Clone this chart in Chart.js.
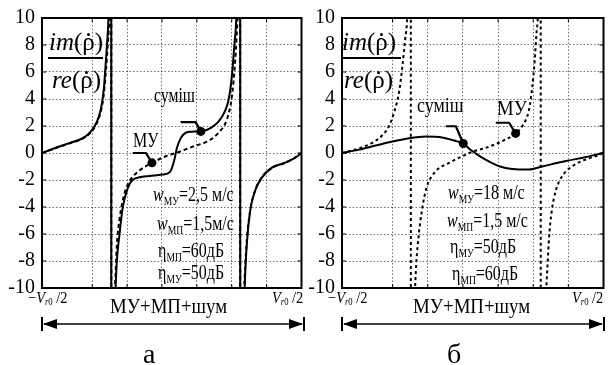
<!DOCTYPE html>
<html>
<head>
<meta charset="utf-8">
<script src="https://cdn.jsdelivr.net/npm/chart.js@4.4.1/dist/chart.umd.min.js"></script>
<style>
  body { margin: 0; background: #fff; }
  #page { position: relative; width: 614px; height: 365px; overflow: hidden; background: #fff;
          font-family: "Liberation Serif", "Times New Roman", serif; color: #000; }
  #page canvas { position: absolute; top: 0; }
  .t { position: absolute; white-space: nowrap; line-height: 1; transform-origin: 0 0; }
  .t sub { font-size: 0.6em; vertical-align: baseline; position: relative; top: 0.3em; }
  .rho { position: relative; display: inline-block; }
  .rho .dot { position: absolute; left: 0.2em; top: 0.14em; width: 3px; height: 3px;
              border-radius: 50%; background: #000; }
  .bar { position: absolute; height: 1.5px; background: #000; }
  svg { position: absolute; left: 0; top: 0; }
</style>
</head>
<body>
<div id="page">
  <canvas id="chartA" width="306" height="300" style="left:0"></canvas>
  <canvas id="chartB" width="308" height="300" style="left:300px"></canvas>
  <svg id="arrows" width="614" height="365"></svg>
</div>
<script>
// x runs in grid cells: -0.44 is the left edge (−Vr0/2), 7 is the right edge (Vr0/2)
var X_MIN = -0.44;
var X_MAX = 7;
var Y_MIN = -10;
var Y_MAX = 10;
var Y_STEP = 2;

// panel а : w_МУ = 2,5 м/с  (±40 marks the jumps at the asymptotes)
var mixAX = [-0.44, 0.08, 0.36, 0.65, 0.88, 1.07, 1.19, 1.28, 1.34, 1.38, 1.42, 1.46, 1.50, 1.546,
  1.548, 1.60, 1.669, 1.712, 1.783, 1.877, 2.019, 2.152, 2.351, 2.635, 3.004, 3.232, 3.346, 3.431,
  3.537, 3.679, 3.858, 4.114, 4.427, 4.711, 4.91, 5.004, 5.081, 5.129, 5.166, 5.242,
  5.244, 5.30, 5.37, 5.43, 5.527, 5.67, 5.857, 6.142, 6.523, 6.807, 7.0];
var mixAY = [0, 0.5, 0.75, 1.0, 1.37, 2.0, 2.7, 3.7, 4.95, 6.4, 7.9, 9.6, 14, 40,
  -40, -16, -10, -7.8, -6.0, -4.0, -2.6, -2.0, -1.8, -1.7, -1.6, -1.4, -0.6, 0.4,
  1.1, 1.5, 1.58, 1.6, 1.9, 2.65, 3.96, 5.7, 8.2, 9.9, 14, 40,
  -40, -16, -10, -6.8, -4.3, -2.8, -1.84, -1.1, -0.73, -0.36, 0];
var muAX = [-0.44, 0.08, 0.36, 0.65, 0.88, 1.08, 1.20, 1.29, 1.35, 1.40, 1.44, 1.48, 1.51, 1.546,
  1.548, 1.60, 1.66, 1.706, 1.783, 1.925, 2.067, 2.351, 2.72, 3.11, 3.4, 3.911, 4.337, 4.621,
  4.862, 5.004, 5.101, 5.166, 5.209, 5.242,
  5.244, 5.30, 5.36, 5.42, 5.52, 5.66, 5.85, 6.14, 6.52, 6.80, 7.0];
var muAY = [0, 0.48, 0.72, 0.98, 1.33, 1.95, 2.65, 3.6, 4.8, 6.3, 7.8, 9.5, 13, 40,
  -40, -14, -9.5, -6.8, -4.9, -3.0, -2.1, -1.3, -0.73, -0.24, 0, 0.5, 0.9, 1.5,
  2.5, 4.2, 6.9, 9.9, 14, 40,
  -40, -16, -10, -6.9, -4.4, -2.85, -1.86, -1.12, -0.74, -0.37, 0];
// the blue trace only shows on the outer branches of panel а
var BLUE_LEFT_END = 1.548;
var BLUE_RIGHT_START = 5.242;
var dotsAX = [2.713, 4.114];
var dotsAY = [-0.73, 1.6];
var leadAMuX = [2.16, 2.54, 2.713];
var leadAMuY = [0, 0, -0.73];
var leadAMixX = [3.537, 3.964, 4.114];
var leadAMixY = [2.28, 2.28, 1.6];

// panel б : w_МУ = 18 м/с
var mixBX = [-0.44, 0.05, 0.52, 0.99, 1.47, 1.95, 2.41, 2.81, 3.01, 3.18, 3.375, 3.546, 3.83, 4.03,
  4.4, 4.88, 5.25, 5.93, 6.5, 7.0];
var mixBY = [0, 0.25, 0.55, 0.85, 1.1, 1.22, 1.15, 0.88, 0.7, 0.32, -0.05, -0.35, -0.75, -0.98,
  -1.18, -1.22, -1.0, -0.6, -0.3, 0];
var muBX = [-0.44, 0.05, 0.42, 0.70, 0.90, 1.04, 1.19, 1.285, 1.356, 1.413, 1.456, 1.517,
  1.519, 1.58, 1.64, 1.678, 1.734, 1.831, 1.962, 2.229, 2.607, 2.985, 3.27, 3.65, 4.12, 4.5,
  4.69, 4.88, 4.976, 5.044, 5.1, 5.13, 5.166, 5.213,
  5.215, 5.30, 5.374, 5.414, 5.45, 5.527, 5.641, 5.829, 6.113, 6.494, 6.779, 7.0];
var muBY = [0, 0.35, 0.75, 1.3, 2.0, 3.0, 4.6, 6.6, 8.4, 10, 14, 40,
  -40, -16, -10, -8, -6.3, -4.3, -2.6, -1.35, -0.73, -0.24, 0.1, 0.38, 0.88, 1.45,
  2.0, 3.2, 4.95, 6.9, 9.1, 10, 14, 40,
  -40, -16, -10, -8, -6.3, -4.3, -2.8, -1.7, -0.98, -0.48, -0.24, 0];
var dotsBX = [3.01, 4.5];
var dotsBY = [0.7, 1.45];
var leadBMixX = [2.514, 2.8, 3.01];
var leadBMixY = [1.98, 1.98, 0.7];
var leadBMuX = [3.935, 4.314, 4.5];
var leadBMuY = [2.24, 2.24, 1.45];

function pts(xs, ys) {
  return xs.map(function (x, i) { return { x: x, y: ys[i] }; });
}

function bluePts(xs, ys) {
  var out = [];
  xs.forEach(function (x, i) {
    if (x <= BLUE_LEFT_END) out.push({ x: x, y: ys[i] });
  });
  out.push({ x: (BLUE_LEFT_END + BLUE_RIGHT_START) / 2, y: null });
  xs.forEach(function (x, i) {
    if (x >= BLUE_RIGHT_START) out.push({ x: x, y: ys[i] });
  });
  return out;
}

function curve(data, dash, width, color) {
  return {
    data: data, borderColor: color || "#000", borderWidth: width, borderDash: dash,
    pointRadius: 0, fill: false, cubicInterpolationMode: "monotone", spanGaps: false, clip: 0,
  };
}

function leader(xs, ys) {
  return { data: pts(xs, ys), borderColor: "#000", borderWidth: 2.2, pointRadius: 0, tension: 0, clip: false };
}

function dots(xs, ys) {
  return {
    data: pts(xs, ys), showLine: false, pointRadius: 4.5, pointBackgroundColor: "#000",
    pointBorderWidth: 0, clip: false,
  };
}

var framePlugin = {
  id: "frame",
  afterDatasetsDraw: function (chart) {
    var a = chart.chartArea;
    var ctx = chart.ctx;
    var sx = chart.scales.x;
    var sy = chart.scales.y;
    ctx.save();
    ctx.strokeStyle = "#000";
    ctx.lineWidth = 1;
    ctx.beginPath();
    sx.ticks.forEach(function (t) {
      var px = sx.getPixelForValue(t.value);
      ctx.moveTo(px, a.top); ctx.lineTo(px, a.top + 4);
      ctx.moveTo(px, a.bottom); ctx.lineTo(px, a.bottom - 4);
    });
    sy.ticks.forEach(function (t) {
      var py = sy.getPixelForValue(t.value);
      ctx.moveTo(a.left, py); ctx.lineTo(a.left + 4, py);
      ctx.moveTo(a.right, py); ctx.lineTo(a.right - 4, py);
    });
    ctx.stroke();
    ctx.lineWidth = 2;
    ctx.strokeRect(a.left, a.top, a.right - a.left, a.bottom - a.top);
    ctx.restore();
  },
};

function makeChart(id, datasets, padRight) {
  var grid = { color: "rgba(0,0,0,0.55)", lineWidth: 1, drawTicks: false };
  return new Chart(document.getElementById(id).getContext("2d"), {
    type: "line",
    data: { datasets: datasets },
    options: {
      responsive: false,
      animation: false,
      events: [],
      layout: { padding: { top: 18, right: padRight, bottom: 12, left: 0 } },
      plugins: { legend: { display: false }, tooltip: { enabled: false } },
      scales: {
        x: {
          type: "linear", min: X_MIN, max: X_MAX,
          ticks: { display: false, stepSize: 1 },
          grid: grid,
          border: { display: false, dash: [1.5, 2] },
          afterFit: function (s) { s.height = 0; s.paddingLeft = 0; s.paddingRight = 0; },
        },
        y: {
          min: Y_MIN, max: Y_MAX,
          ticks: {
            stepSize: Y_STEP, autoSkip: false, padding: 7, color: "#000",
            font: { family: '"Liberation Serif", serif', size: 20 },
          },
          grid: grid,
          border: { display: false, dash: [1.5, 2] },
          afterFit: function (s) { s.width = 42; s.paddingTop = 0; s.paddingBottom = 0; },
        },
      },
    },
    plugins: [framePlugin],
  });
}

makeChart("chartA", [
  curve(pts(mixAX, mixAY), [], 2),
  curve(pts(muAX, muAY), [4, 3], 2),
  curve(bluePts(mixAX, mixAY), [2, 2], 1.2, "#2b2bd0"),
  leader(leadAMuX, leadAMuY),
  leader(leadAMixX, leadAMixY),
  dots(dotsAX, dotsAY),
], 2.5);

makeChart("chartB", [
  curve(pts(mixBX, mixBY), [], 2),
  curve(pts(muBX, muBY), [3, 3], 2),
  leader(leadBMixX, leadBMixY),
  leader(leadBMuX, leadBMuY),
  dots(dotsBX, dotsBY),
], 4);

// text annotations
var page = document.getElementById("page");
function label(html, left, baseline, size, sx, italic) {
  var el = document.createElement("div");
  el.className = "t";
  el.innerHTML = html;
  el.style.left = left + "px";
  el.style.top = (baseline - 0.8375 * size) + "px";
  el.style.fontSize = size + "px";
  if (sx) el.style.transform = "scaleX(" + sx + ")";
  if (italic) el.style.fontStyle = "italic";
  page.appendChild(el);
}
function bar(left, top, width) {
  var el = document.createElement("div");
  el.className = "bar";
  el.style.left = left + "px";
  el.style.top = top + "px";
  el.style.width = width + "px";
  page.appendChild(el);
}

var RHO = '(<span class="rho">\u03C1<span class="dot"></span></span>)';
// panel а
label("<i>im</i>" + RHO, 49, 50, 25);
bar(48, 57, 55);
label("<i>re</i>" + RHO, 52, 88, 25);
label("МУ", 133, 147, 20, 0.8);
label("суміш", 154, 103, 21, 0.75);
label("<i>w</i><sub>МУ</sub>=2,5 м/с", 153, 201, 20, 0.8);
label("<i>w</i><sub>МП</sub>=1,5м/с", 157, 230, 20, 0.8);
label("η<sub>МП</sub>=60дБ", 158, 257, 20, 0.8);
label("η<sub>МУ</sub>=50дБ", 158, 279, 20, 0.8);
label("−<i>V</i><sub><i>r</i>0</sub> /2", 28, 303, 16, 0.9);
label("<i>V</i><sub><i>r</i>0</sub> /2", 272, 303, 16, 0.9);
label("МУ+МП+шум", 110, 313, 20, 0.94);
label("а", 143, 363, 28);

// panel б
label("<i>im</i>" + RHO, 342, 50, 25);
bar(342, 57, 59);
label("<i>re</i>" + RHO, 344, 88, 25);
label("суміш", 417, 113, 21, 0.85);
label("МУ", 497, 115, 22, 0.85);
label("<i>w</i><sub>МУ</sub>=18 м/с", 448, 199, 20, 0.8);
label("<i>w</i><sub>МП</sub>=1,5 м/с", 447, 227, 20, 0.8);
label("η<sub>МУ</sub>=50дБ", 450, 253, 20, 0.8);
label("η<sub>МП</sub>=60дБ", 452, 280, 20, 0.8);
label("−<i>V</i><sub><i>r</i>0</sub> /2", 328, 303, 16, 0.9);
label("<i>V</i><sub><i>r</i>0</sub> /2", 572, 303, 16, 0.9);
label("МУ+МП+шум", 413, 313, 20, 0.94);
label("б", 447, 363, 28);

// double-headed range arrows under each panel
var svg = document.getElementById("arrows");
function arrow(x1, x2, y) {
  var ns = "http://www.w3.org/2000/svg";
  var parts = [
    ["line", { x1: x1 + 2, y1: y, x2: x2 - 2, y2: y, stroke: "#000", "stroke-width": 1.5 }],
    ["line", { x1: x1, y1: y - 7, x2: x1, y2: y + 7, stroke: "#000", "stroke-width": 2 }],
    ["line", { x1: x2, y1: y - 7, x2: x2, y2: y + 7, stroke: "#000", "stroke-width": 2 }],
    ["polygon", { points: (x1 + 1) + "," + y + " " + (x1 + 15) + "," + (y - 5) + " " + (x1 + 15) + "," + (y + 5), fill: "#000" }],
    ["polygon", { points: (x2 - 1) + "," + y + " " + (x2 - 15) + "," + (y - 5) + " " + (x2 - 15) + "," + (y + 5), fill: "#000" }],
  ];
  parts.forEach(function (p) {
    var el = document.createElementNS(ns, p[0]);
    Object.keys(p[1]).forEach(function (k) { el.setAttribute(k, p[1][k]); });
    svg.appendChild(el);
  });
}
arrow(42, 304, 324);
arrow(342, 604, 324);
</script>
</body>
</html>
